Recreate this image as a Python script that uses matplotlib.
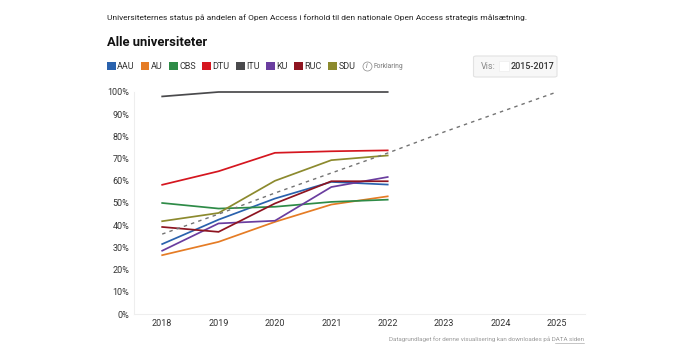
import matplotlib
matplotlib.use('Agg')
import matplotlib.pyplot as plt
from matplotlib.patches import Rectangle, FancyBboxPatch

years = [2018, 2019, 2020, 2021, 2022]
all_years = [2018, 2019, 2020, 2021, 2022, 2023, 2024, 2025]
goal = [36, 45, 54.5, 63.5, 72.5, 82, 91, 100]

aau = [31.5, 42.5, 52, 59.5, 58.3]
au = [26.5, 32.5, 41.5, 49.3, 53]
cbs = [50, 47.5, 48.3, 50.5, 51.5]
dtu = [58.2, 64.3, 72.6, 73.3, 73.7]
itu = [98, 100, 100, 100, 100]
ku = [28.5, 40.8, 42, 57.2, 61.7]
ruc = [39.2, 37, 49.8, 59.8, 59.8]
sdu = [41.8, 45.5, 60, 69.3, 71.4]

names = ['AAU', 'AU', 'CBS', 'DTU', 'ITU', 'KU', 'RUC', 'SDU']
series = [aau, au, cbs, dtu, itu, ku, ruc, sdu]
colors = ['#2a62ad', '#e57c25', '#2e8b47', '#d5161f', '#4a4a4c', '#6a3d9f', '#8e1420', '#8c8a2e']
# pixel x of each legend swatch
legend_x = [107, 140.5, 169, 202, 236, 266, 294, 328]

plt.rcParams['font.family'] = ['Roboto', 'DejaVu Sans']

fig = plt.figure(figsize=(7, 3.5), dpi=100)
ax = fig.add_axes([134 / 700, 1 - 314 / 350, (585 - 134) / 700, (314 - 92) / 350])

for name, vals, c in zip(names, series, colors):
    ax.plot(years, vals, color=c, lw=1.25, label=name, solid_joinstyle='miter', clip_on=False)
ax.plot(all_years, goal, color='#737373', lw=1.0, ls=(0, (2.5, 3)), zorder=5)

ax.set_xlim(2017.5, 2025.5)
ax.set_ylim(0, 100)
ax.set_xticks(all_years)
ax.set_yticks(range(0, 101, 10))
ax.set_yticklabels([str(v) + '%' for v in range(0, 101, 10)])
ax.tick_params(length=0, labelsize=6.5, labelcolor='#333333')
ax.tick_params(axis='x', pad=3.5)
ax.tick_params(axis='y', pad=3.5)
for s in ['top', 'right']:
    ax.spines[s].set_visible(False)
ax.spines['left'].set_color('#eeeeee')
ax.spines['bottom'].set_color('#eeeeee')

def px(x, y):
    return x / 700, 1 - y / 350

fig.text(*px(107, 18), 'Universiteternes status på andelen af Open Access i forhold til den nationale Open Access strategis målsætning.',
         fontsize=6.0, color='#222222', va='center')
fig.text(*px(107, 43), 'Alle universiteter', fontsize=9.4, fontweight='bold', color='#111111', va='center')

for name, c, x in zip(names, colors, legend_x):
    fig.add_artist(Rectangle(px(x, 70), 8.5 / 700, 8 / 350, transform=fig.transFigure, color=c, lw=0))
    fig.text(*px(x + 10.3, 66.5), name, fontsize=6.5, color='#333333', va='center')

ix, iy = px(367, 66)
fig.add_artist(plt.Line2D([ix], [iy], transform=fig.transFigure, marker='o', ms=6.5, mfc='white', mec='#888888', mew=0.5))
fig.text(ix, iy, 'i', fontsize=5, color='#777777', va='center', ha='center', style='italic')
fig.text(*px(374, 66.5), 'Forklaring', fontsize=4.8, color='#777777', va='center')

fig.add_artist(FancyBboxPatch(px(473.5, 77), 83.5 / 700, 21 / 350, transform=fig.transFigure,
                              boxstyle='round,pad=0,rounding_size=0.004', fc='#f7f7f7', ec='#e2e2e2', lw=0.8))
fig.text(*px(481, 66.5), 'Vis:', fontsize=6.5, color='#888888', va='center')
fig.add_artist(Rectangle(px(499, 71), 9.5 / 700, 10 / 350, transform=fig.transFigure, fc='white', ec='#eeeeee', lw=0.5))
fig.text(*px(511, 66.5), '2015-2017', fontsize=6.5, color='#333333', va='center', fontweight='medium')

fig.text(*px(584, 339), 'Datagrundlaget for denne visualisering kan downloades på DATA siden',
         fontsize=4.47, color='#999999', va='center', ha='right')
fig.add_artist(plt.Line2D([555 / 700, 584 / 700], [1 - 342.5 / 350] * 2, color='#999999', lw=0.4))

fig.savefig('out.png', dpi=100)
